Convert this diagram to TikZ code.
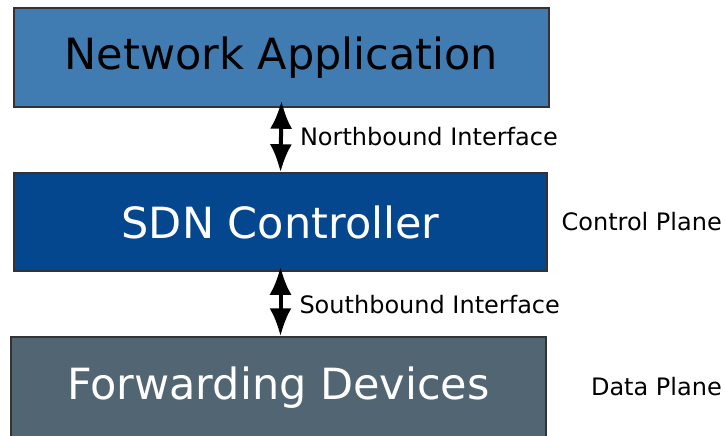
\documentclass[tikz,border=0pt]{standalone}
\usepackage{fontspec}
\setmainfont{DejaVu Sans}
\usetikzlibrary{arrows.meta}

\definecolor{appBlue}{RGB}{64,123,178}
\definecolor{ctrlBlue}{RGB}{4,71,142}
\definecolor{devGray}{RGB}{81,101,114}
\definecolor{edgeGray}{RGB}{51,51,51}

\begin{document}
\begin{tikzpicture}[x=1pt,y=-1pt,
  layerBox/.style={draw=edgeGray, line width=1.5pt, inner sep=0pt,
    minimum width=\boxWidth pt, minimum height=\boxHeight pt,
    font=\fontsize{43}{50}\selectfont},
  biArrow/.style={line width=4pt, {Latex[length=28pt,width=22pt]}-{Latex[length=28pt,width=22pt]}},
  sideLabel/.style={inner sep=0pt, font=\fontsize{24}{28}\selectfont}
]
% Parameters
\def\boxWidth{535}
\def\boxHeight{99}
\def\planeX{722}

% Frame
\useasboundingbox (0,0) rectangle (725,436);
\clip (0,0) rectangle (725,436);

% Layers
\node[layerBox, fill=appBlue, text=black] (app) at (281.5,57.5) {Network Application};
\node[layerBox, fill=ctrlBlue, text=white, minimum width=533pt, minimum height=98pt] (ctrl) at (280.5,222) {SDN Controller};
\node[layerBox, fill=devGray, text=white, minimum height=101pt] (dev) at (278.5,387.5) {Forwarding Devices};

% Interfaces
\draw[biArrow] ([yshift=7pt]app.south) -- (ctrl.north)
  node[sideLabel, midway, anchor=west, xshift=17pt] (nbi) {Northbound Interface};
\draw[biArrow] ([yshift=5pt]ctrl.south) -- (ctrl.south |- dev.north)
  node[sideLabel, midway, anchor=west, xshift=17pt, yshift=-3pt] (sbi) {Southbound Interface};

% Planes
\node[sideLabel, anchor=east] (cplane) at (\planeX,222) {Control Plane};
\node[sideLabel, anchor=east] (dplane) at (\planeX,387) {Data Plane};

\end{tikzpicture}
\end{document}
